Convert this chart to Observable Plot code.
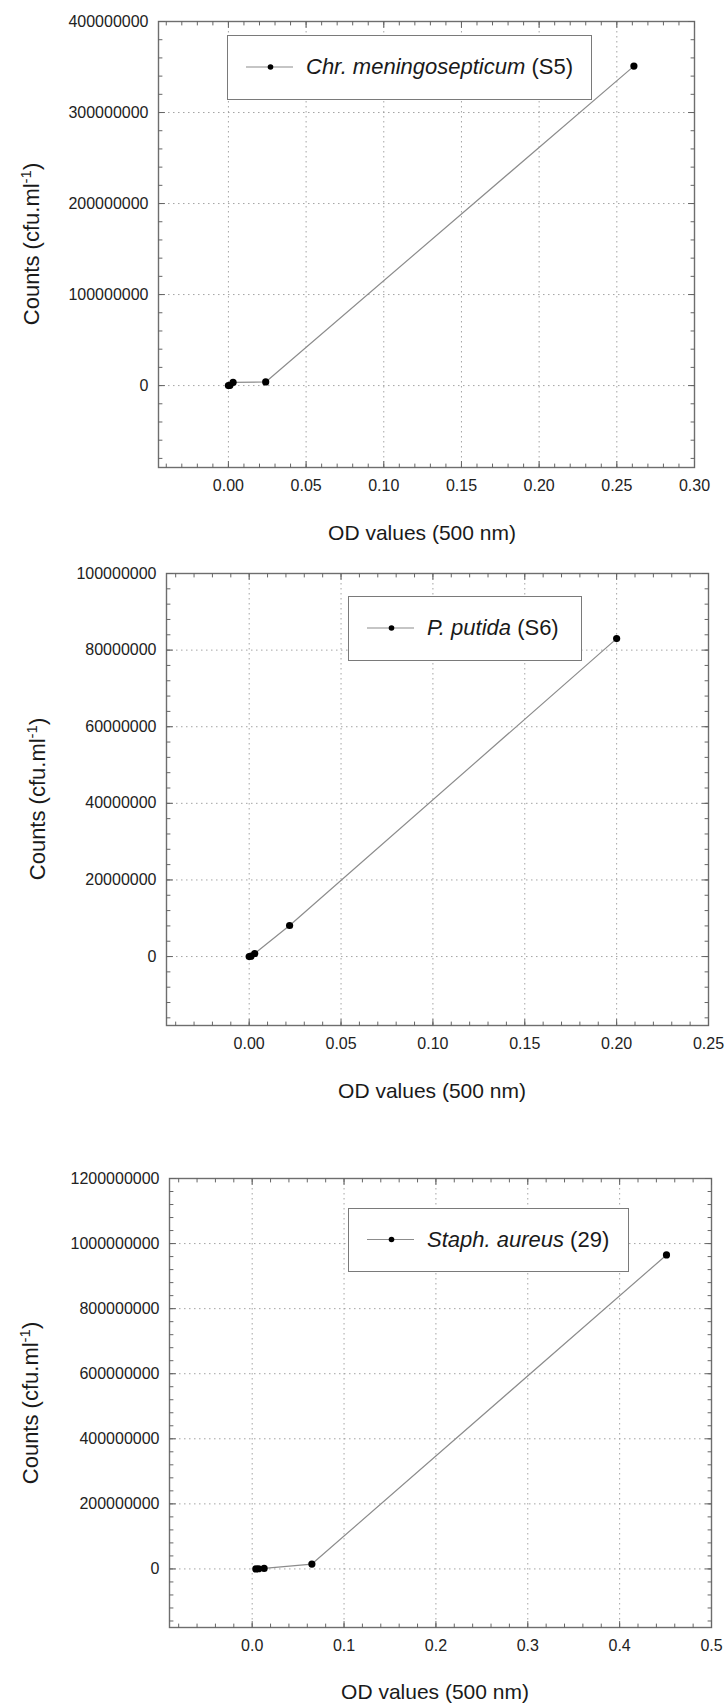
<!DOCTYPE html>
<html>
<head>
<meta charset="utf-8">
<script src="https://cdn.jsdelivr.net/npm/d3@7"></script>
<script src="https://cdn.jsdelivr.net/npm/@observablehq/plot@0.6"></script>
<style>
  html, body { margin: 0; padding: 0; background: #fff; }
  #root { position: relative; width: 725px; height: 1706px; background: #fff;
          font-family: "Liberation Sans", Arial, sans-serif; color: #1a1a1a; overflow: hidden; }
  .pane { position: absolute; left: 0; }
  .pane svg { display: block; }
  .ytitle, .xtitle { position: absolute; white-space: nowrap; line-height: 1; color: #1a1a1a; }
  .ytitle { font-size: 22px; transform: translate(-50%, -50%) rotate(-90deg); }
  .xtitle { font-size: 21px; transform: translate(-50%, -50%); }
  .ytitle sup { font-size: 0.68em; vertical-align: 0.55em; line-height: 0; }
  .legend { position: absolute; box-sizing: border-box; border: 1.5px solid #7a7a7a; background: #fff; }
  .legend svg { position: absolute; left: 0; top: 0; }
  .legend .lt { position: absolute; white-space: nowrap; font-size: 22px; line-height: 1; transform: translateY(-50%); color: #1a1a1a; }
</style>
</head>
<body>
<div id="root"></div>
<script>
// ---------- data ----------
// Panel 1: Chr. meningosepticum (S5)
const s5OD     = [0.000, 0.001, 0.003, 0.024, 0.261];
const s5Counts = [2e4, 3e5, 3.5e6, 4.0e6, 3.51e8];
// Panel 2: P. putida (S6)
const s6OD     = [0.000, 0.001, 0.003, 0.022, 0.200];
const s6Counts = [0, 1e5, 8e5, 8.1e6, 8.3e7];
// Panel 3: Staph. aureus (29)
const sa29OD     = [0.004, 0.007, 0.013, 0.065, 0.451];
const sa29Counts = [1e5, 5e5, 1.5e6, 1.5e7, 9.65e8];

// tick values
const p1XTicks = [0.00, 0.05, 0.10, 0.15, 0.20, 0.25, 0.30];
const p1YTicks = [0, 100000000, 200000000, 300000000, 400000000];
const p2XTicks = [0.00, 0.05, 0.10, 0.15, 0.20, 0.25];
const p2YTicks = [0, 20000000, 40000000, 60000000, 80000000, 100000000];
const p3XTicks = [0.0, 0.1, 0.2, 0.3, 0.4, 0.5];
const p3YTicks = [0, 200000000, 400000000, 600000000, 800000000, 1000000000, 1200000000];

// legend labels
const s5Species = "Chr. meningosepticum", s5Strain = "(S5)";
const s6Species = "P. putida", s6Strain = "(S6)";
const sa29Species = "Staph. aureus", sa29Strain = "(29)";
const xTitle = "OD values (500 nm)";
const yTitleMain = "Counts (cfu.ml", yTitleSup = "-1", yTitleEnd = ")";

// ---------- helpers ----------
const root = document.getElementById("root");
const tickUp = {draw(c, l) { c.moveTo(0, 0); c.lineTo(0, -l); }};
const tickDown = {draw(c, l) { c.moveTo(0, 0); c.lineTo(0, l); }};
const tickRight = {draw(c, l) { c.moveTo(0, 0); c.lineTo(l, 0); }};
const tickLeft = {draw(c, l) { c.moveTo(0, 0); c.lineTo(-l, 0); }};

function minorTicks(lo, hi, step) {
  return d3.range(Math.ceil(lo / step - 1e-6), Math.floor(hi / step + 1e-6) + 1).map(i => +(i * step).toPrecision(12));
}

function panel(cfg) {
  const {od, counts, xDomain, yDomain, xTicks, yTicks, xMinorStep, yMinorStep, xFmt,
         top, height, mt, mb, ml, mr} = cfg;
  const data = od.map((x, i) => ({x, y: counts[i]}));
  const [x0, x1] = xDomain, [y0, y1] = yDomain;
  const xMinor = minorTicks(x0, x1, xMinorStep);
  const yMinor = minorTicks(y0, y1, yMinorStep);
  const tk = {anchor: "start", stroke: "#666", strokeWidth: 1};
  const plot = Plot.plot({
    width: 725, height,
    marginTop: mt, marginBottom: mb, marginLeft: ml, marginRight: mr,
    style: {fontFamily: "'Liberation Sans', Arial, sans-serif", background: "transparent", overflow: "visible"},
    x: {domain: xDomain, nice: false},
    y: {domain: yDomain, nice: false},
    marks: [
      Plot.gridX(xTicks, {stroke: "#9a9a9a", strokeOpacity: 0.9, strokeDasharray: "1.5,3.5", strokeWidth: 1}),
      Plot.gridY(yTicks, {stroke: "#9a9a9a", strokeOpacity: 0.9, strokeDasharray: "1.5,3.5", strokeWidth: 1}),
      Plot.line(data, {x: "x", y: "y", stroke: "#8c8c8c", strokeWidth: 1.2}),
      Plot.dot(data, {x: "x", y: "y", r: 3.6, fill: "#000", stroke: "none"}),
      Plot.frame({stroke: "#6e6e6e", strokeWidth: 1.4}),
      // minor ticks (inward) on all four sides
      Plot.vector(xMinor, {...tk, x: d => d, y: y0, length: 3.5, shape: tickUp}),
      Plot.vector(xMinor, {...tk, x: d => d, y: y1, length: 3.5, shape: tickDown}),
      Plot.vector(yMinor, {...tk, y: d => d, x: x0, length: 3.5, shape: tickRight}),
      Plot.vector(yMinor, {...tk, y: d => d, x: x1, length: 3.5, shape: tickLeft}),
      // major ticks
      Plot.vector(xTicks, {...tk, x: d => d, y: y0, length: 6, shape: tickUp}),
      Plot.vector(xTicks, {...tk, x: d => d, y: y1, length: 6, shape: tickDown}),
      Plot.vector(yTicks, {...tk, y: d => d, x: x0, length: 6, shape: tickRight}),
      Plot.vector(yTicks, {...tk, y: d => d, x: x1, length: 6, shape: tickLeft}),
      Plot.axisX(xTicks, {tickSize: 0, tickPadding: 12, tickFormat: xFmt, fontSize: 16, label: null, color: "#222"}),
      Plot.axisY(yTicks, {tickSize: 0, tickPadding: 10, tickFormat: d3.format("d"), fontSize: 16, label: null, color: "#222"})
    ]
  });
  const pane = document.createElement("div");
  pane.className = "pane";
  pane.style.top = top + "px";
  pane.appendChild(plot);
  root.appendChild(pane);

  // axis titles
  const yt = document.createElement("div");
  yt.className = "ytitle";
  yt.style.left = cfg.ytX + "px";
  yt.style.top = cfg.ytY + "px";
  yt.innerHTML = `${yTitleMain}<sup>${yTitleSup}</sup>${yTitleEnd}`;
  root.appendChild(yt);

  const xt = document.createElement("div");
  xt.className = "xtitle";
  xt.style.left = cfg.xtX + "px";
  xt.style.top = cfg.xtY + "px";
  xt.textContent = xTitle;
  root.appendChild(xt);

  // legend box
  const lg = document.createElement("div");
  lg.className = "legend";
  const [lx, ly, lw, lh] = cfg.legendBox;
  Object.assign(lg.style, {left: lx + "px", top: ly + "px", width: lw + "px", height: lh + "px"});
  const cy = lh / 2 - 1.5;
  lg.innerHTML =
    `<svg width="80" height="${lh}"><line x1="18" x2="65" y1="${cy}" y2="${cy}" stroke="#8c8c8c" stroke-width="1.2"/>` +
    `<circle cx="42.5" cy="${cy}" r="2.8" fill="#000"/></svg>` +
    `<span class="lt" style="left:78px;top:${cy}px"><i>${cfg.species}</i> ${cfg.strain}</span>`;
  root.appendChild(lg);
}

panel({
  od: s5OD, counts: s5Counts,
  xDomain: [-0.045, 0.30], yDomain: [-9e7, 4e8],
  xTicks: p1XTicks, yTicks: p1YTicks, xMinorStep: 0.01, yMinorStep: 2e7,
  xFmt: d3.format(".2f"),
  top: 0, height: 560, mt: 21, mb: 93, ml: 158, mr: 31,
  ytX: 32, ytY: 244, xtX: 422, xtY: 532,
  legendBox: [227, 35, 365, 65],
  species: s5Species, strain: s5Strain
});

panel({
  od: s6OD, counts: s6Counts,
  xDomain: [-0.045, 0.25], yDomain: [-1.8e7, 1e8],
  xTicks: p2XTicks, yTicks: p2YTicks, xMinorStep: 0.01, yMinorStep: 4e6,
  xFmt: d3.format(".2f"),
  top: 560, height: 560, mt: 13, mb: 95, ml: 166, mr: 17,
  ytX: 38, ytY: 799, xtX: 432, xtY: 1090,
  legendBox: [348, 596, 234, 65],
  species: s6Species, strain: s6Strain
});

panel({
  od: sa29OD, counts: sa29Counts,
  xDomain: [-0.09, 0.5], yDomain: [-1.8e8, 1.2e9],
  xTicks: p3XTicks, yTicks: p3YTicks, xMinorStep: 0.02, yMinorStep: 4e7,
  xFmt: d3.format(".1f"),
  top: 1120, height: 586, mt: 58, mb: 79, ml: 169, mr: 14,
  ytX: 31, ytY: 1403, xtX: 435, xtY: 1691,
  legendBox: [348, 1208, 281, 64],
  species: sa29Species, strain: sa29Strain
});
</script>
</body>
</html>
